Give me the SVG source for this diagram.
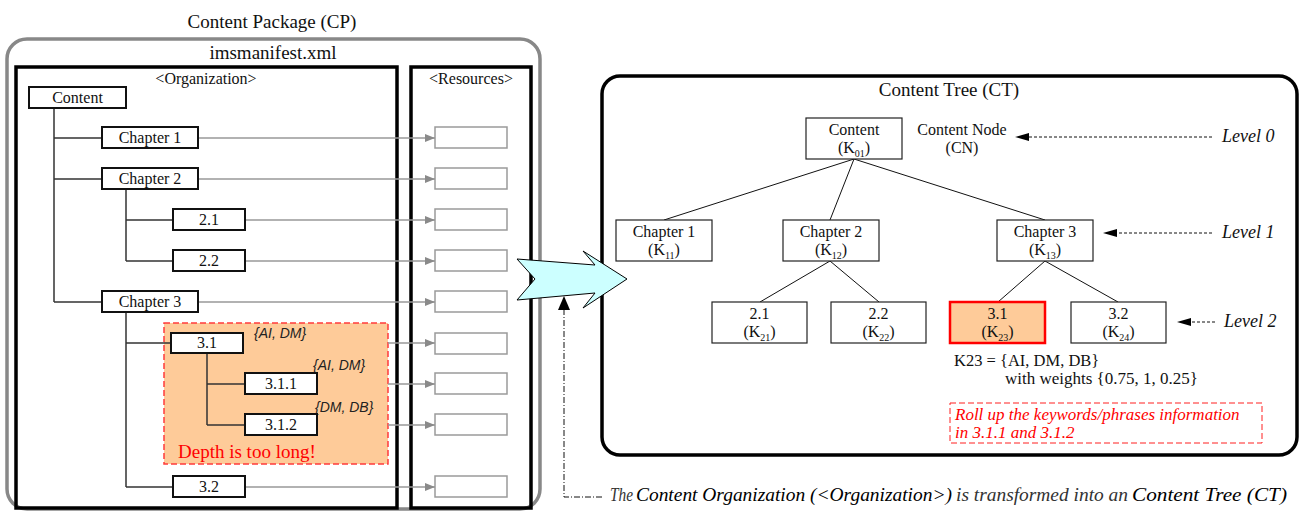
<svg xmlns="http://www.w3.org/2000/svg" width="1303" height="512" viewBox="0 0 1303 512">
  <style>
    text { font-family: "Liberation Serif", "Times New Roman", serif; fill: #111; }
    .title { font-size: 19px; text-anchor: middle; }
    .sect { font-size: 16px; text-anchor: middle; }
    .lbl { font-size: 16px; text-anchor: middle; }
    .sub { font-size: 10px; }
    .kw { font-family: "Liberation Sans", Arial, sans-serif; font-style: italic; font-size: 14px; fill: #222; }
    .lvl { font-style: italic; font-size: 18px; }
    .org { fill: #fff; stroke: #111; stroke-width: 2; }
    .res { fill: #fff; stroke: #9a9a9a; stroke-width: 1.5; }
    .ct { fill: #fff; stroke: #222; stroke-width: 1.2; }
    .tree { fill: none; stroke: #333; stroke-width: 1.5; }
    .link { fill: none; stroke: #999; stroke-width: 1.5; marker-end: url(#grayHead); }
    .edge { fill: none; stroke: #111; stroke-width: 1; }
    .lvlArrow { fill: none; stroke: #111; stroke-width: 1; stroke-dasharray: 3 2; }
  </style>
  <defs>
    <marker id="grayHead" viewBox="0 0 10 8" refX="10" refY="4" markerWidth="10" markerHeight="8" markerUnits="userSpaceOnUse" orient="auto">
      <path d="M0,0 L10,4 L0,8 Z" fill="#8a8a8a"/>
    </marker>
  </defs>

  <!-- Content Package frame -->
  <g id="content-package">
    <text class="title" x="272" y="28">Content Package (CP)</text>
    <rect x="7" y="39" width="533" height="470" rx="20" fill="none" stroke="#888" stroke-width="3.5"/>
    <text class="title" x="273" y="59">imsmanifest.xml</text>
  </g>

  <g id="organization">
    <rect x="16" y="67" width="381" height="441" fill="none" stroke="#000" stroke-width="3.5"/>
    <text class="sect" x="206" y="84">&lt;Organization&gt;</text>
  </g>

  <g id="resources">
    <rect x="411" y="67" width="120" height="441" fill="none" stroke="#000" stroke-width="3.5"/>
    <text class="sect" x="471" y="84">&lt;Resources&gt;</text>
    <rect class="res" x="435" y="127" width="72" height="21"/>
    <rect class="res" x="435" y="168" width="72" height="21"/>
    <rect class="res" x="435" y="209" width="72" height="21"/>
    <rect class="res" x="435" y="250" width="72" height="21"/>
    <rect class="res" x="435" y="291" width="72" height="21"/>
    <rect class="res" x="435" y="333" width="72" height="21"/>
    <rect class="res" x="435" y="373" width="72" height="21"/>
    <rect class="res" x="435" y="414" width="72" height="21"/>
    <rect class="res" x="435" y="476" width="72" height="21"/>
  </g>

  <!-- Highlighted deep branch -->
  <g id="deep-branch">
    <rect x="164" y="323" width="224" height="141" fill="#FECB99" stroke="#FF3B3B" stroke-width="1.5" stroke-dasharray="6 3"/>
    <text x="178" y="458" style="font-size:19px; fill:#FF0000">Depth is too long!</text>
    <text class="kw" x="254" y="338">{AI, DM}</text>
    <text class="kw" x="313" y="370">{AI, DM}</text>
    <text class="kw" x="315" y="412">{DM, DB}</text>
  </g>

  <g id="connectors">
    <!-- organization tree -->
    <path class="tree" d="M54,108 V302 M54,138 H102 M54,179 H102 M54,302 H102"/>
    <path class="tree" d="M126,189 V261 M126,220 H173 M126,261 H173"/>
    <path class="tree" d="M126,312 V487 M126,343 H171 M126,487 H173"/>
    <path class="tree" d="M207,353 V425 M207,384 H245 M207,425 H245"/>
    <!-- items to resources -->
    <path class="link" d="M198,138 H435"/>
    <path class="link" d="M198,179 H435"/>
    <path class="link" d="M245,220 H435"/>
    <path class="link" d="M245,261 H435"/>
    <path class="link" d="M198,302 H435"/>
    <path class="link" d="M388,343 H435"/>
    <path class="link" d="M388,384 H435"/>
    <path class="link" d="M388,425 H435"/>
    <path class="link" d="M245,487 H435"/>
    <!-- content tree edges -->
    <path class="edge" d="M854,159 L664,220 M854,159 L830,220 M854,159 L1045,220"/>
    <path class="edge" d="M830,261 L760,302 M830,261 L879,302"/>
    <path class="edge" d="M1045,261 L998,302 M1045,261 L1118,302"/>
    <!-- level pointers -->
    <path class="lvlArrow" d="M1212,137 H1028"/>
    <path d="M1015,137 L1029,133 L1029,141 Z" fill="#000"/>
    <path class="lvlArrow" d="M1212,233 H1116"/>
    <path d="M1103,233 L1117,229 L1117,237 Z" fill="#000"/>
    <path class="lvlArrow" d="M1215,322 H1190"/>
    <path d="M1177,322 L1191,318 L1191,326 Z" fill="#000"/>
    <!-- transformation note pointer -->
    <path d="M602,497 H564 V309" fill="none" stroke="#111" stroke-width="1" stroke-dasharray="6 2 1 2"/>
    <path d="M564,296 L558,310 L570,310 Z" fill="#000"/>
  </g>

  <!-- Organization items -->
  <g id="org-content"><rect class="org" x="29" y="87" width="97" height="21"/><text class="lbl" x="77.5" y="103">Content</text></g>
  <g id="org-ch1"><rect class="org" x="102" y="127" width="96" height="21"/><text class="lbl" x="150" y="143">Chapter 1</text></g>
  <g id="org-ch2"><rect class="org" x="102" y="168" width="96" height="21"/><text class="lbl" x="150" y="184">Chapter 2</text></g>
  <g id="org-2-1"><rect class="org" x="173" y="209" width="72" height="21"/><text class="lbl" x="209" y="225">2.1</text></g>
  <g id="org-2-2"><rect class="org" x="173" y="250" width="72" height="21"/><text class="lbl" x="209" y="266">2.2</text></g>
  <g id="org-ch3"><rect class="org" x="102" y="291" width="96" height="21"/><text class="lbl" x="150" y="307">Chapter 3</text></g>
  <g id="org-3-1"><rect class="org" x="171" y="333" width="72" height="20"/><text class="lbl" x="207" y="348">3.1</text></g>
  <g id="org-3-1-1"><rect class="org" x="245" y="373" width="72" height="21"/><text class="lbl" x="281" y="389">3.1.1</text></g>
  <g id="org-3-1-2"><rect class="org" x="245" y="414" width="72" height="21"/><text class="lbl" x="281" y="430">3.1.2</text></g>
  <g id="org-3-2"><rect class="org" x="173" y="476" width="72" height="21"/><text class="lbl" x="209" y="492">3.2</text></g>

  <!-- Content Tree frame -->
  <g id="content-tree">
    <rect x="602" y="76" width="695" height="379" rx="18" fill="none" stroke="#000" stroke-width="3.5"/>
    <text class="title" x="949" y="96">Content Tree (CT)</text>
    <text class="lbl" x="962" y="135">Content Node</text>
    <text class="lbl" x="962" y="153">(CN)</text>
    <text class="lvl" x="1222" y="142">Level 0</text>
    <text class="lvl" x="1222" y="238">Level 1</text>
    <text class="lvl" x="1224" y="327">Level 2</text>
  </g>

  <g id="ct-content"><rect class="ct" x="806" y="118" width="96" height="41"/><text class="lbl" x="854" y="135">Content</text><text class="lbl" x="854" y="153">(K<tspan class="sub" dy="4">01</tspan><tspan dy="-4">)</tspan></text></g>
  <g id="ct-ch1"><rect class="ct" x="616" y="220" width="96" height="41"/><text class="lbl" x="664" y="237">Chapter 1</text><text class="lbl" x="664" y="255">(K<tspan class="sub" dy="4">11</tspan><tspan dy="-4">)</tspan></text></g>
  <g id="ct-ch2"><rect class="ct" x="783" y="220" width="96" height="41"/><text class="lbl" x="831" y="237">Chapter 2</text><text class="lbl" x="831" y="255">(K<tspan class="sub" dy="4">12</tspan><tspan dy="-4">)</tspan></text></g>
  <g id="ct-ch3"><rect class="ct" x="997" y="220" width="96" height="41"/><text class="lbl" x="1045" y="237">Chapter 3</text><text class="lbl" x="1045" y="255">(K<tspan class="sub" dy="4">13</tspan><tspan dy="-4">)</tspan></text></g>
  <g id="ct-2-1"><rect class="ct" x="712" y="302" width="95" height="41"/><text class="lbl" x="759.5" y="319">2.1</text><text class="lbl" x="759.5" y="337">(K<tspan class="sub" dy="4">21</tspan><tspan dy="-4">)</tspan></text></g>
  <g id="ct-2-2"><rect class="ct" x="831" y="302" width="95" height="41"/><text class="lbl" x="878.5" y="319">2.2</text><text class="lbl" x="878.5" y="337">(K<tspan class="sub" dy="4">22</tspan><tspan dy="-4">)</tspan></text></g>
  <g id="ct-3-1"><rect x="950" y="302" width="95" height="41" fill="#FECB99" stroke="#FF0000" stroke-width="2.5"/><text class="lbl" x="997.5" y="319">3.1</text><text class="lbl" x="997.5" y="337">(K<tspan class="sub" dy="4">23</tspan><tspan dy="-4">)</tspan></text></g>
  <g id="ct-3-2"><rect class="ct" x="1071" y="302" width="95" height="41"/><text class="lbl" x="1118.5" y="319">3.2</text><text class="lbl" x="1118.5" y="337">(K<tspan class="sub" dy="4">24</tspan><tspan dy="-4">)</tspan></text></g>

  <g id="keyword-note">
    <text x="954" y="366" style="font-size:16.5px">K23 = {AI, DM, DB}</text>
    <text x="1005" y="384" style="font-size:17px">with weights {0.75, 1, 0.25}</text>
  </g>

  <g id="rollup-note">
    <rect x="950" y="403" width="312" height="40" fill="none" stroke="#FF2020" stroke-width="1" stroke-dasharray="6 3"/>
    <text x="955" y="420" style="font-size:17px; font-style:italic; fill:#FF0000">Roll up the keywords/phrases information</text>
    <text x="955" y="438" style="font-size:17px; font-style:italic; fill:#FF0000"> in 3.1.1 and 3.1.2</text>
  </g>

  <!-- Transformation arrow -->
  <g id="transform-arrow">
    <polygon points="517,259 595,265 583,251 627,279 583,308 595,293 517,300 535,279" fill="#CCFFFF" stroke="#000" stroke-width="1"/>
  </g>

  <g id="transform-note">
    <text y="501" style="font-size:18px; font-style:italic; fill:#333"><tspan x="610" textLength="23" lengthAdjust="spacingAndGlyphs">The</tspan><tspan x="636" textLength="316" lengthAdjust="spacingAndGlyphs" style="fill:#000">Content Organization (&lt;Organization&gt;)</tspan><tspan x="956" textLength="172" lengthAdjust="spacingAndGlyphs">is transformed into an</tspan><tspan x="1132" textLength="155" lengthAdjust="spacingAndGlyphs" style="fill:#000">Content Tree (CT)</tspan></text>
  </g>
</svg>
